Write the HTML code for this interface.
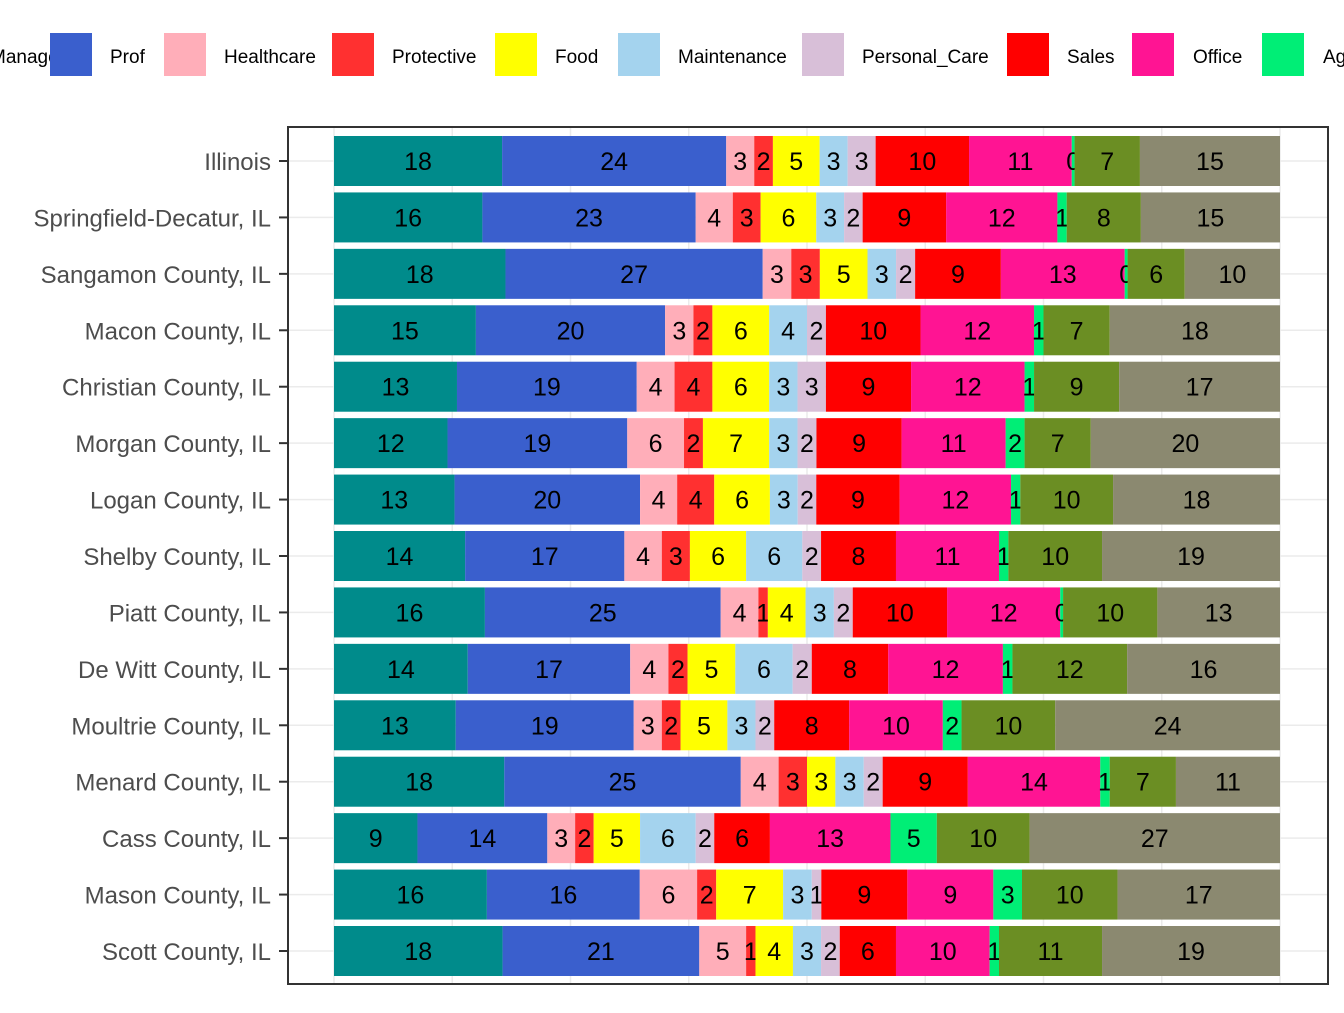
<!DOCTYPE html>
<html><head><meta charset="utf-8"><style>
body{margin:0;background:#fff;}
svg{font-family:"Liberation Sans",Arial,sans-serif;}
</style></head><body>
<svg id="chart" width="1344" height="1008" xmlns="http://www.w3.org/2000/svg"></svg>
<script>
const categories=["Illinois","Springfield-Decatur, IL","Sangamon County, IL","Macon County, IL","Christian County, IL","Morgan County, IL","Logan County, IL","Shelby County, IL","Piatt County, IL","De Witt County, IL","Moultrie County, IL","Menard County, IL","Cass County, IL","Mason County, IL","Scott County, IL"];
const seriesNames=["Managerial","Prof","Healthcare","Protective","Food","Maintenance","Personal_Care","Sales","Office","Ag","Construction","Production"];
const seriesColors=["#008b8b","#3a5fcd","#ffaeb9","#ff3030","#ffff00","#a4d3ee","#d8bfd8","#ff0000","#ff1493","#00ee76","#6b8e23","#8b8970"];
const managerial=[18,16,18,15,13,12,13,14,16,14,13,18,9,16,18];
const prof=[24,23,27,20,19,19,20,17,25,17,19,25,14,16,21];
const healthcare=[3,4,3,3,4,6,4,4,4,4,3,4,3,6,5];
const protective=[2,3,3,2,4,2,4,3,1,2,2,3,2,2,1];
const food=[5,6,5,6,6,7,6,6,4,5,5,3,5,7,4];
const maintenance=[3,3,3,4,3,3,3,6,3,6,3,3,6,3,3];
const personalCare=[3,2,2,2,3,2,2,2,2,2,2,2,2,1,2];
const sales=[10,9,9,10,9,9,9,8,10,8,8,9,6,9,6];
const office=[11,12,13,12,12,11,12,11,12,12,10,14,13,9,10];
const ag=[0.3,1,0.3,1,1,2,1,1,0.3,1,2,1,5,3,1];
const construction=[7,8,6,7,9,7,10,10,10,12,10,7,10,10,11];
const production=[15,15,10,18,17,20,18,19,13,16,24,11,27,17,19];
const series=[managerial,prof,healthcare,protective,food,maintenance,personalCare,sales,office,ag,construction,production];

const NS="http://www.w3.org/2000/svg";
const svg=document.getElementById('chart');
function mk(tag,attrs,parent){const e=document.createElementNS(NS,tag);for(const k in attrs)e.setAttribute(k,attrs[k]);(parent||svg).appendChild(e);return e;}
const x0=334,x1=1280,yTop=161,yStep=(951-161)/14,barH=50;
const xScale=f=>x0+f*(x1-x0);
const yScale=i=>yTop+i*yStep;

// panel
const panel=mk('rect',{x:288,y:127,width:1040,height:857,fill:'#fff',stroke:'none'});

for(let k=0;k<=8;k++){const gx=xScale(k/8);const g=mk('line',{x1:gx,x2:gx,y1:127,y2:984,stroke:'#ebebeb','stroke-width':1.5});
}
categories.forEach((c,i)=>{const g=mk('line',{x1:288,x2:1328,y1:yScale(i),y2:yScale(i),stroke:'#ebebeb','stroke-width':1.5});
});

categories.forEach((c,i)=>{
  let total=0;series.forEach(s=>total+=s[i]);
  let cum=0;const y=yScale(i);
  series.forEach((s,j)=>{
    const a=xScale(cum/total),b=xScale((cum+s[i])/total);
    const r=mk('rect',{x:a,y:y-barH/2,width:Math.max(b-a,0),height:barH,fill:seriesColors[j]});
    
    
    const t=mk('text',{x:(a+b)/2,y:y+9,'text-anchor':'middle','font-size':25,fill:'#000'});
    t.textContent=Math.round(s[i]);
    
    
    cum+=s[i];
  });
  const lbl=mk('text',{x:271,y:y+9,'text-anchor':'end','font-size':24,fill:'#4d4d4d'});
  lbl.textContent=c;
  
  
  const tk=mk('line',{x1:279,x2:288,y1:y,y2:y,stroke:'#333','stroke-width':2});
  
  
});
const border=mk('rect',{x:288,y:127,width:1040,height:857,fill:'none',stroke:'#333','stroke-width':2});


// legend
const legSw=[-72,50,164,332,495,618,802,1007,1132,1262,1400,1500];
const legTx=[-10,110,224,392,555,678,862,1067,1193,1323,1460,1560];
seriesNames.forEach((n,j)=>{
  const r=mk('rect',{x:legSw[j],y:33,width:42,height:43,fill:seriesColors[j]});
  
  
  const t=mk('text',{x:legTx[j],y:63,'font-size':19,fill:'#000'});
  t.textContent=n;
  
  
});
</script>
</body></html>
